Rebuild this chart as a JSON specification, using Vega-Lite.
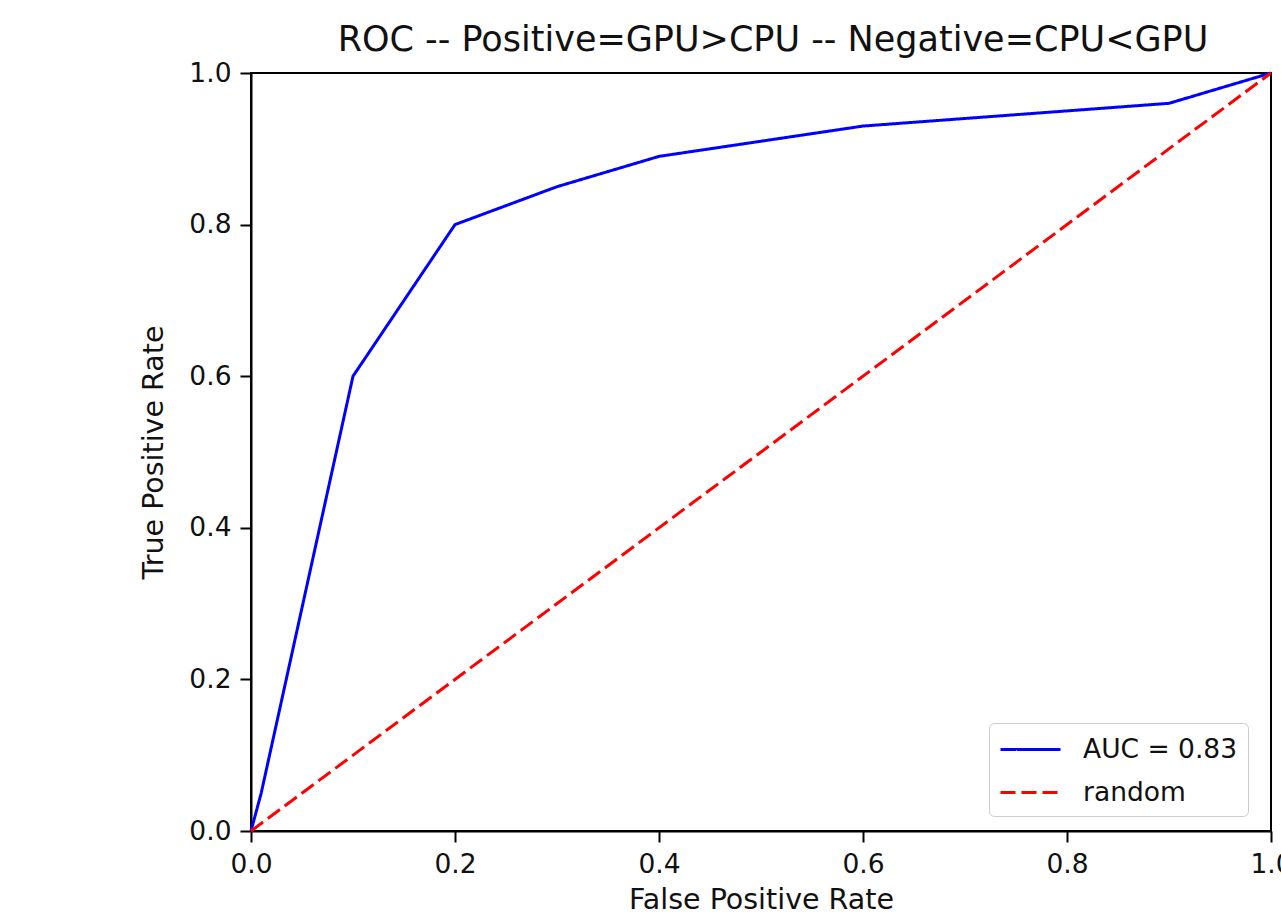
{
  "$schema": "https://vega.github.io/schema/vega-lite/v6.json",
  "autosize": {"type": "none"},
  "padding": {"left": 251, "top": 73, "right": 10, "bottom": 87},
  "width": 1020,
  "height": 758,
  "background": "white",
  "title": {"text": "ROC -- Positive=GPU>CPU -- Negative=CPU<GPU", "font": "DejaVu Sans", "fontSize": 35, "fontWeight": "normal", "color": "#111111", "anchor": "middle", "offset": 2, "dx": 12},
  "config": {
    "font": "DejaVu Sans",
    "view": {"stroke": "black", "strokeWidth": 2},
    "axis": {"grid": false, "domainColor": "black", "domainWidth": 2, "tickColor": "black", "tickSize": 11, "tickWidth": 2, "labelFont": "DejaVu Sans", "labelFontSize": 26.5, "labelColor": "#111111", "titleFont": "DejaVu Sans", "titleFontSize": 28.5, "titleFontWeight": "normal", "titleColor": "#111111", "labelPadding": 9, "labelFlush": false, "labelOverlap": false}
  },
  "data": {"values": [
    {"series": "AUC = 0.83", "fpr": 0.0, "tpr": 0.0, "o": 0},
    {"series": "AUC = 0.83", "fpr": 0.01, "tpr": 0.05, "o": 1},
    {"series": "AUC = 0.83", "fpr": 0.1, "tpr": 0.6, "o": 2},
    {"series": "AUC = 0.83", "fpr": 0.2, "tpr": 0.8, "o": 3},
    {"series": "AUC = 0.83", "fpr": 0.3, "tpr": 0.85, "o": 4},
    {"series": "AUC = 0.83", "fpr": 0.4, "tpr": 0.89, "o": 5},
    {"series": "AUC = 0.83", "fpr": 0.6, "tpr": 0.93, "o": 6},
    {"series": "AUC = 0.83", "fpr": 0.9, "tpr": 0.96, "o": 7},
    {"series": "AUC = 0.83", "fpr": 1.0, "tpr": 1.0, "o": 8},
    {"series": "random", "fpr": 0.0, "tpr": 0.0, "o": 0},
    {"series": "random", "fpr": 1.0, "tpr": 1.0, "o": 1}
  ]},
  "mark": {"type": "line", "strokeWidth": 3, "clip": false},
  "encoding": {
    "x": {"field": "fpr", "type": "quantitative", "scale": {"domain": [0, 1], "nice": false, "zero": false}, "axis": {"title": "False Positive Rate", "values": [0, 0.2, 0.4, 0.6, 0.8, 1.0], "format": ".1f", "titlePadding": 8}},
    "y": {"field": "tpr", "type": "quantitative", "scale": {"domain": [0, 1], "nice": false, "zero": false}, "axis": {"title": "True Positive Rate", "values": [0, 0.2, 0.4, 0.6, 0.8, 1.0], "format": ".1f", "titlePadding": 20}},
    "order": {"field": "o", "type": "quantitative"},
    "color": {"field": "series", "type": "nominal", "scale": {"domain": ["AUC = 0.83", "random"], "range": ["#0000ff", "#ff0000"]}, "legend": {"title": null, "orient": "none", "legendX": 738, "legendY": 650, "symbolType": "M-1,0H3", "symbolSize": 900, "symbolStrokeWidth": 3, "labelFontSize": 26.5, "labelFont": "DejaVu Sans", "labelColor": "#111111", "strokeColor": "#cccccc", "fillColor": "white", "cornerRadius": 5, "padding": 10, "rowPadding": 13, "labelOffset": 51}},
    "strokeDash": {"field": "series", "type": "nominal", "scale": {"domain": ["AUC = 0.83", "random"], "range": [[1, 0], [15, 6]]}, "legend": null}
  }
}
